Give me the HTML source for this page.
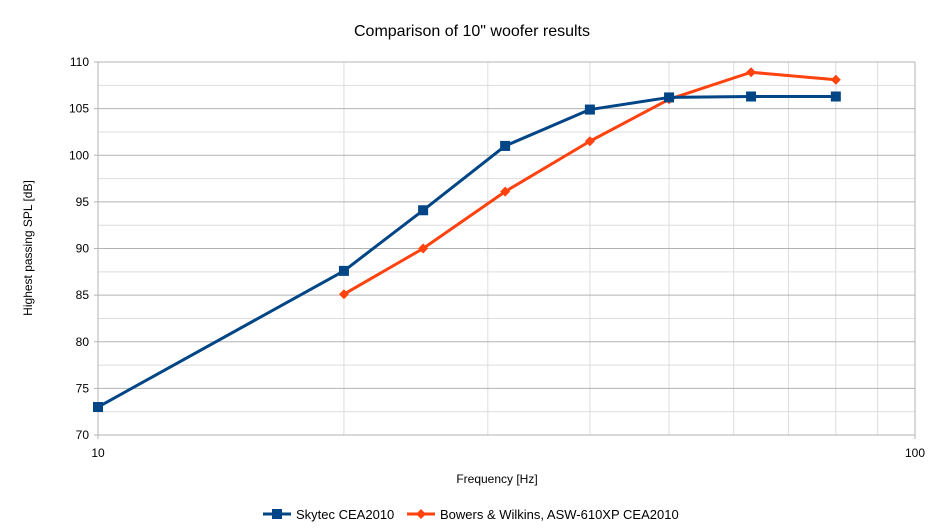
<!DOCTYPE html>
<html><head><meta charset="utf-8"><style>
body{margin:0;background:#fff;}
svg{display:block;font-family:"Liberation Sans",sans-serif;}
</style></head><body>
<svg id="chart" width="945" height="532" viewBox="0 0 945 532">
<text x="472" y="36" text-anchor="middle" font-size="16" fill="#000">Comparison of 10" woofer results</text>
<g id="grid"></g>
<g id="axes"></g>
<g id="series"></g>
<text x="497" y="483" text-anchor="middle" font-size="12">Frequency [Hz]</text>
<text transform="translate(32,248) rotate(-90)" text-anchor="middle" font-size="12">Highest passing SPL [dB]</text>
<g>
<g>
<line x1="263" y1="514" x2="291" y2="514" stroke="#004586" stroke-width="3"/>
<rect x="272" y="509" width="10" height="10" fill="#004586"/>
<text x="296" y="519" font-size="13">Skytec CEA2010</text></g>
<g>
<line x1="407" y1="514" x2="435" y2="514" stroke="#ff420e" stroke-width="3"/>
<path d="M421 509 L426 514 L421 519 L416 514Z" fill="#ff420e"/>
<text x="440" y="519" font-size="13">Bowers &amp; Wilkins, ASW-610XP CEA2010</text></g>
</g>
</svg>
<script>
const freqs=[10,20,25,31.5,40,50,63,80];
const skytec=[73,87.6,94.1,101,104.9,106.2,106.3,106.3];
const bwFreqs=[20,25,31.5,40,50,63,80];
const bw=[85.1,90,96.1,101.5,106,108.9,108.1];
const yTicks=[70,75,80,85,90,95,100,105,110];
const xTickLabels=[10,100];
const NS="http://www.w3.org/2000/svg";
const X0=98,X1=915,Y0=435,Y1=62;
const xs=f=>X0+(Math.log10(f)-1)*(X1-X0);
const ys=v=>Y0-(v-70)/40*(Y0-Y1);
function el(t,a,p){const e=document.createElementNS(NS,t);for(const k in a)e.setAttribute(k,a[k]);p.appendChild(e);return e;}
const grid=document.getElementById('grid'),axes=document.getElementById('axes'),ser=document.getElementById('series');
for(let v=72.5;v<110;v+=5){const l=el('line',{x1:X0,x2:X1,y1:ys(v),y2:ys(v),stroke:'#dddddd'},grid);

}
for(let f=20;f<100;f+=10){const l=el('line',{x1:xs(f),x2:xs(f),y1:Y1,y2:Y0,stroke:'#dddddd'},grid);

}
yTicks.forEach(v=>{const l=el('line',{x1:X0-4,x2:X1,y1:ys(v),y2:ys(v),stroke:'#b3b3b3'},grid);


const t=el('text',{x:X0-9,y:ys(v)+4,'text-anchor':'end','font-size':12},axes);t.textContent=v;

});
xTickLabels.forEach(f=>{const l=el('line',{x1:xs(f),x2:xs(f),y1:Y1,y2:Y0+4,stroke:'#b3b3b3'},grid);


const t=el('text',{x:xs(f),y:Y0+22,'text-anchor':'middle','font-size':12},axes);t.textContent=f;

});
function draw(fx,vals,color,name,square){
const p=el('polyline',{points:vals.map((v,i)=>xs(fx[i])+','+ys(v)).join(' '),fill:'none',stroke:color,'stroke-width':3,'stroke-linejoin':'round'},ser);


vals.forEach((v,i)=>{const x=xs(fx[i]),y=ys(v);let m;
if(square)m=el('rect',{x:x-5,y:y-5,width:10,height:10,fill:color},ser);
else m=el('path',{d:`M${x} ${y-5}L${x+5} ${y}L${x} ${y+5}L${x-5} ${y}Z`,fill:color},ser);

});}
draw(bwFreqs,bw,'#ff420e','bw',false);
draw(freqs,skytec,'#004586','skytec',true);
</script>
</body></html>
